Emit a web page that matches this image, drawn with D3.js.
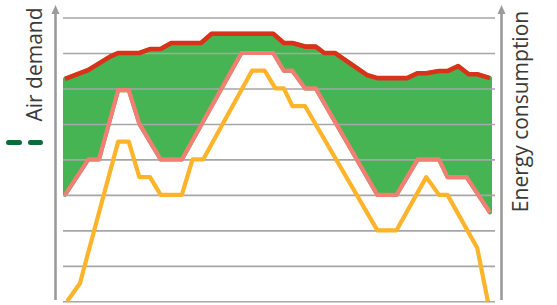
<!DOCTYPE html>
<html>
<head>
<meta charset="utf-8">
<script src="https://cdn.jsdelivr.net/npm/d3@7"></script>
<style>
body { margin: 0; background: #fff; }
svg { display: block; font-family: "Open Sans", sans-serif; }
</style>
</head>
<body>
<svg id="chart" width="557" height="305"></svg>
<script>
/*
Data (x is time in % of the period, y in grid units 0..8)
*/
// red line, top of the green band
var upperT = [0, 5.5, 10.5, 12.5, 17.5, 20, 22.5, 25, 32, 34.5, 49, 51.5, 53.5, 56.5, 59, 61, 63.5, 71, 73.5, 80.5, 83, 85, 88, 90, 92.5, 95, 97, 100];
var upperV = [6.27, 6.52, 6.89, 7.0, 7.0, 7.11, 7.11, 7.28, 7.28, 7.54, 7.54, 7.28, 7.28, 7.18, 7.18, 7.0, 7.0, 6.38, 6.29, 6.29, 6.43, 6.43, 6.49, 6.49, 6.63, 6.4, 6.4, 6.29];
// pink line, bottom of the green band
var lowerT = [0, 5.5, 8, 12.5, 15, 17.5, 22.5, 27.5, 41.5, 49, 51.5, 53.5, 56.5, 59, 73.5, 78, 83, 88, 90, 94.5, 100];
var lowerV = [3.0, 4.0, 4.0, 5.95, 5.95, 5.0, 4.0, 4.0, 7.0, 7.0, 6.5, 6.5, 6.0, 6.0, 3.0, 3.0, 4.0, 4.0, 3.5, 3.5, 2.5];
// yellow line
var consT = [0.5, 3.5, 12.5, 15, 17.5, 20, 22.5, 27.5, 30, 32.5, 44, 47, 49.5, 51.5, 53.5, 56.5, 73.5, 78, 85, 88, 90, 97, 99.5];
var consV = [0, 0.5, 4.5, 4.5, 3.5, 3.5, 3.0, 3.0, 4.0, 4.0, 6.5, 6.5, 6.0, 6.0, 5.5, 5.5, 2.0, 2.0, 3.5, 3.0, 3.0, 1.5, 0];
var gridTicks = [0, 1, 2, 3, 4, 5, 6, 7, 8];

var svg = d3.select("#chart");

var x = d3.scaleLinear().domain([0, 100]).range([65, 490]),
    y = d3.scaleLinear().domain([0, 8]).range([301.3, 17.5]);

function pts(ts, vs) {
    return ts.map(function (t, i) { return [t, vs[i]]; });
}

var line = d3.line()
    .x(function (d) { return x(d[0]); })
    .y(function (d) { return y(d[1]); });

// green band between the red and pink lines
var band = pts(upperT, upperV).concat(pts(lowerT, lowerV).reverse());
svg.append("path")
    .attr("d", line(band) + "Z")
    .attr("fill", "#46b453")
    .attr("stroke", "#46b453")
    .attr("stroke-width", 4)
    .attr("stroke-linejoin", "round");

// horizontal grid
svg.append("g")
    .attr("transform", "translate(63,0)")
    .call(d3.axisLeft(y).tickValues(gridTicks).tickSize(-432).tickFormat(""))
    .call(function (g) {
        g.select(".domain").remove();
        g.selectAll("line").attr("stroke", "#a6a6a6").attr("stroke-width", 1.6);
    });

// series lines
function drawLine(ts, vs, color, w) {
    svg.append("path")
        .attr("d", line(pts(ts, vs)))
        .attr("fill", "none")
        .attr("stroke", color)
        .attr("stroke-width", w)
        .attr("stroke-linejoin", "round");
}
drawLine(consT, consV, "#fdb42b", 4.2);
drawLine(lowerT, lowerV, "#f27e74", 4.2);
drawLine(upperT, upperV, "#d9321a", 4.6);

// vertical axes with arrow heads
function arrowAxis(ax) {
    svg.append("line")
        .attr("x1", ax).attr("x2", ax)
        .attr("y1", 300).attr("y2", 12)
        .attr("stroke", "#9b9b9b")
        .attr("stroke-width", 2.6);
    svg.append("path")
        .attr("d", "M" + ax + ",5L" + (ax + 4) + ",14L" + (ax - 4) + ",14Z")
        .attr("fill", "#9b9b9b");
}
arrowAxis(55.5);
arrowAxis(501.5);

// axis titles
svg.append("text")
    .attr("transform", "translate(42,64.5) rotate(-90)")
    .attr("text-anchor", "middle")
    .attr("font-size", 21)
    .attr("fill", "#3a3a3a")
    .text("Air demand");

svg.append("text")
    .attr("transform", "translate(528,111.5) rotate(-90)")
    .attr("text-anchor", "middle")
    .attr("font-size", 21)
    .attr("fill", "#3a3a3a")
    .text("Energy consumption");

// dashed legend mark
svg.append("line")
    .attr("x1", 8.5).attr("x2", 40.5)
    .attr("y1", 142.5).attr("y2", 142.5)
    .attr("stroke", "#0b6b3b")
    .attr("stroke-width", 5)
    .attr("stroke-linecap", "round")
    .attr("stroke-dasharray", "11,11");
</script>
</body>
</html>
